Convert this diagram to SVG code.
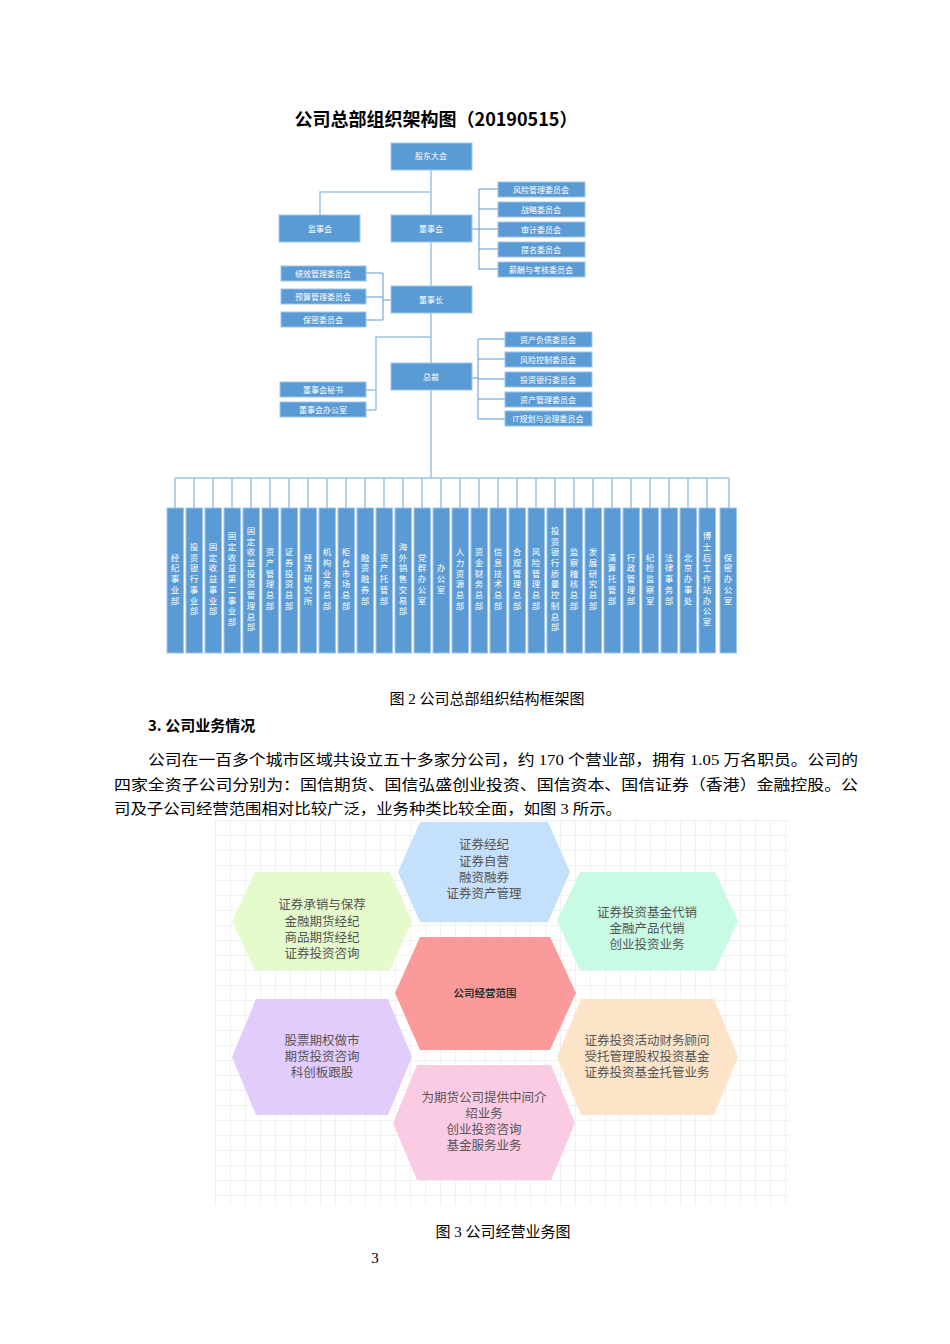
<svg xmlns="http://www.w3.org/2000/svg" width="950" height="1344" viewBox="0 0 950 1344">
<defs>
<pattern id="grid" width="15" height="15" patternUnits="userSpaceOnUse" x="215" y="820">
<path d="M15 0H0V15" fill="none" stroke="#e3e3e3" stroke-width="1"/>
</pattern>
</defs>
<style>
.b{fill:#5b9bd5;stroke:#9fc5e8;stroke-width:1}
.t{fill:#fff;font-family:"Noto Sans CJK SC",sans-serif;font-size:8px;text-anchor:middle}
.v{fill:#fff;font-family:"Noto Sans CJK SC",sans-serif;font-size:8.5px;text-anchor:middle;writing-mode:vertical-rl;text-orientation:upright;letter-spacing:2.2px}
.c{fill:none;stroke:#9dc3e6;stroke-width:1.5}
.k{fill:none;stroke:#5b9bd5;stroke-width:1}
.p{font-family:"Liberation Serif","Noto Sans CJK SC",serif;font-size:15px;fill:#000}
.h{font-family:"Noto Sans CJK SC",sans-serif;font-size:12.5px;fill:#555;text-anchor:middle}
</style>
<rect width="950" height="1344" fill="#fff"/>
<text x="436" y="126" font-family="Noto Sans CJK SC,sans-serif" font-size="18" font-weight="bold" text-anchor="middle">公司总部组织架构图（20190515）</text>
<g id="connectors">
<path class="c" d="M431 170V286M431 192H320V215M431 313V363M431 337H376V410M366 390H376M366 410H376M431 390V478M175 478H729"/>
<path class="k" d="M472 229H479M479 189V270M479 189H498M479 209H498M479 229H498M479 249H498M479 269H498"/>
<path class="k" d="M391 300H383M383 273V320M366 273H383M366 297H383M366 320H383"/>
<path class="k" d="M472 378H478M478 339V419M478 339H505M478 359H505M478 379H505M478 399H505M478 419H505"/>
<path class="c" d="M175 478V508M194 478V508M213 478V508M232 478V508M251 478V508M270 478V508M289 478V508M308 478V508M327 478V508M346 478V508M365 478V508M384 478V508M403 478V508M422 478V508M441 478V508M460 478V508M479 478V508M498 478V508M517 478V508M536 478V508M555 478V508M574 478V508M593 478V508M612 478V508M631 478V508M650 478V508M669 478V508M688 478V508M707 478V508M729 478V508"/>
</g>
<g id="gddh"><rect class="b" x="391" y="143" width="81" height="27"/><text class="t" x="431" y="159">股东大会</text></g>
<g id="jsh"><rect class="b" x="279" y="215" width="81" height="27"/><text class="t" x="320" y="232">监事会</text></g>
<g id="dsh"><rect class="b" x="391" y="215" width="81" height="27"/><text class="t" x="431" y="232">董事会</text></g>
<g id="dsz"><rect class="b" x="391" y="286" width="81" height="27"/><text class="t" x="431" y="303">董事长</text></g>
<g id="zc"><rect class="b" x="391" y="363" width="81" height="27"/><text class="t" x="431" y="380">总裁</text></g>
<g id="rc1"><rect class="b" x="498" y="182" width="87" height="15"/><text class="t" x="541" y="193">风险管理委员会</text></g>
<g id="rc2"><rect class="b" x="498" y="202" width="87" height="15"/><text class="t" x="541" y="213">战略委员会</text></g>
<g id="rc3"><rect class="b" x="498" y="222" width="87" height="15"/><text class="t" x="541" y="233">审计委员会</text></g>
<g id="rc4"><rect class="b" x="498" y="242" width="87" height="15"/><text class="t" x="541" y="253">提名委员会</text></g>
<g id="rc5"><rect class="b" x="498" y="262" width="87" height="15"/><text class="t" x="541" y="273">薪酬与考核委员会</text></g>
<g id="lc1"><rect class="b" x="281" y="266" width="85" height="15"/><text class="t" x="323" y="277">绩效管理委员会</text></g>
<g id="lc2"><rect class="b" x="281" y="289" width="85" height="15"/><text class="t" x="323" y="300">预算管理委员会</text></g>
<g id="lc3"><rect class="b" x="281" y="312" width="85" height="15"/><text class="t" x="323" y="323">保密委员会</text></g>
<g id="ms1"><rect class="b" x="280" y="382" width="86" height="15"/><text class="t" x="323" y="393">董事会秘书</text></g>
<g id="ms2"><rect class="b" x="280" y="402" width="86" height="15"/><text class="t" x="323" y="413">董事会办公室</text></g>
<g id="zc1"><rect class="b" x="505" y="332" width="87" height="15"/><text class="t" x="548" y="343">资产负债委员会</text></g>
<g id="zc2"><rect class="b" x="505" y="352" width="87" height="15"/><text class="t" x="548" y="363">风险控制委员会</text></g>
<g id="zc3"><rect class="b" x="505" y="372" width="87" height="15"/><text class="t" x="548" y="383">投资银行委员会</text></g>
<g id="zc4"><rect class="b" x="505" y="392" width="87" height="15"/><text class="t" x="548" y="403">资产管理委员会</text></g>
<g id="zc5"><rect class="b" x="505" y="411" width="87" height="15"/><text class="t" x="548" y="422">IT规划与治理委员会</text></g>
<g id="depts">
<g id="d1"><rect class="b" x="167" y="508" width="16.5" height="145"/><text class="v" x="175" y="580">经纪事业部</text></g>
<g id="d2"><rect class="b" x="186" y="508" width="16.5" height="145"/><text class="v" x="194" y="580">投资银行事业部</text></g>
<g id="d3"><rect class="b" x="205" y="508" width="16.5" height="145"/><text class="v" x="213" y="580">固定收益事业部</text></g>
<g id="d4"><rect class="b" x="224" y="508" width="16.5" height="145"/><text class="v" x="232" y="580">固定收益第二事业部</text></g>
<g id="d5"><rect class="b" x="243" y="508" width="16.5" height="145"/><text class="v" x="251" y="580">固定收益投资管理总部</text></g>
<g id="d6"><rect class="b" x="262" y="508" width="16.5" height="145"/><text class="v" x="270" y="580">资产管理总部</text></g>
<g id="d7"><rect class="b" x="281" y="508" width="16.5" height="145"/><text class="v" x="289" y="580">证券投资总部</text></g>
<g id="d8"><rect class="b" x="300" y="508" width="16.5" height="145"/><text class="v" x="308" y="580">经济研究所</text></g>
<g id="d9"><rect class="b" x="319" y="508" width="16.5" height="145"/><text class="v" x="327" y="580">机构业务总部</text></g>
<g id="d10"><rect class="b" x="338" y="508" width="16.5" height="145"/><text class="v" x="346" y="580">柜台市场总部</text></g>
<g id="d11"><rect class="b" x="357" y="508" width="16.5" height="145"/><text class="v" x="365" y="580">融资融券部</text></g>
<g id="d12"><rect class="b" x="376" y="508" width="16.5" height="145"/><text class="v" x="384" y="580">资产托管部</text></g>
<g id="d13"><rect class="b" x="395" y="508" width="16.5" height="145"/><text class="v" x="403" y="580">海外销售交易部</text></g>
<g id="d14"><rect class="b" x="414" y="508" width="16.5" height="145"/><text class="v" x="422" y="580">党群办公室</text></g>
<g id="d15"><rect class="b" x="433" y="508" width="16.5" height="145"/><text class="v" x="441" y="580">办公室</text></g>
<g id="d16"><rect class="b" x="452" y="508" width="16.5" height="145"/><text class="v" x="460" y="580">人力资源总部</text></g>
<g id="d17"><rect class="b" x="471" y="508" width="16.5" height="145"/><text class="v" x="479" y="580">资金财务总部</text></g>
<g id="d18"><rect class="b" x="490" y="508" width="16.5" height="145"/><text class="v" x="498" y="580">信息技术总部</text></g>
<g id="d19"><rect class="b" x="509" y="508" width="16.5" height="145"/><text class="v" x="517" y="580">合规管理总部</text></g>
<g id="d20"><rect class="b" x="528" y="508" width="16.5" height="145"/><text class="v" x="536" y="580">风险管理总部</text></g>
<g id="d21"><rect class="b" x="547" y="508" width="16.5" height="145"/><text class="v" x="555" y="580">投资银行质量控制总部</text></g>
<g id="d22"><rect class="b" x="566" y="508" width="16.5" height="145"/><text class="v" x="574" y="580">监察稽核总部</text></g>
<g id="d23"><rect class="b" x="585" y="508" width="16.5" height="145"/><text class="v" x="593" y="580">发展研究总部</text></g>
<g id="d24"><rect class="b" x="604" y="508" width="16.5" height="145"/><text class="v" x="612" y="580">清算托管部</text></g>
<g id="d25"><rect class="b" x="623" y="508" width="16.5" height="145"/><text class="v" x="631" y="580">行政管理部</text></g>
<g id="d26"><rect class="b" x="642" y="508" width="16.5" height="145"/><text class="v" x="650" y="580">纪检监察室</text></g>
<g id="d27"><rect class="b" x="661" y="508" width="16.5" height="145"/><text class="v" x="669" y="580">法律事务部</text></g>
<g id="d28"><rect class="b" x="680" y="508" width="16.5" height="145"/><text class="v" x="688" y="580">北京办事处</text></g>
<g id="d29"><rect class="b" x="699" y="508" width="16.5" height="145"/><text class="v" x="707" y="580">博士后工作站办公室</text></g>
<g id="d30"><rect class="b" x="720" y="508" width="16.5" height="145"/><text class="v" x="728" y="580">保密办公室</text></g>
</g>
<text class="p" x="487" y="704" text-anchor="middle">图 2  公司总部组织结构框架图</text>
<text x="148" y="731" font-family="Noto Sans CJK SC,sans-serif" font-size="15" font-weight="bold">3. 公司业务情况</text>
<text class="p" x="148" y="765" textLength="710" lengthAdjust="spacingAndGlyphs">公司在一百多个城市区域共设立五十多家分公司，约 170 个营业部，拥有 1.05 万名职员。公司的</text>
<text class="p" x="114" y="790" textLength="744" lengthAdjust="spacingAndGlyphs">四家全资子公司分别为：国信期货、国信弘盛创业投资、国信资本、国信证券（香港）金融控股。公</text>
<text class="p" x="114" y="814" textLength="508" lengthAdjust="spacingAndGlyphs">司及子公司经营范围相对比较广泛，业务种类比较全面，如图 3 所示。</text>
<rect x="215" y="820" width="575" height="385" fill="url(#grid)"/>
<g id="hex-top"><polygon points="398,872 420,822 548,822 570,872 548,922 420,922" fill="#c5e0fb"/>
<text class="h" x="484" y="849">证券经纪</text><text class="h" x="484" y="866">证券自营</text><text class="h" x="484" y="882">融资融券</text><text class="h" x="484" y="898">证券资产管理</text></g>
<g id="hex-lt"><polygon points="232,921 255,872 390,872 412,921 390,970 255,970" fill="#e6fbcc"/>
<text class="h" x="322" y="909">证券承销与保荐</text><text class="h" x="322" y="926">金融期货经纪</text><text class="h" x="322" y="942">商品期货经纪</text><text class="h" x="322" y="958">证券投资咨询</text></g>
<g id="hex-rt"><polygon points="557,921 580,872 715,872 738,921 715,970 580,970" fill="#c8fbe4"/>
<text class="h" x="647" y="917">证券投资基金代销</text><text class="h" x="647" y="933">金融产品代销</text><text class="h" x="647" y="949">创业投资业务</text></g>
<g id="hex-c"><polygon points="395,993 420,937 550,937 576,993 550,1050 420,1050" fill="#fb9a9a"/>
<text x="485" y="997" font-family="Noto Sans CJK SC,sans-serif" font-size="10.5" font-weight="bold" fill="#333" text-anchor="middle">公司经营范围</text></g>
<g id="hex-lb"><polygon points="232,1057 256,999 388,999 412,1057 388,1115 256,1115" fill="#e2ccfb"/>
<text class="h" x="322" y="1045">股票期权做市</text><text class="h" x="322" y="1061">期货投资咨询</text><text class="h" x="322" y="1077">科创板跟股</text></g>
<g id="hex-rb"><polygon points="557,1057 581,999 714,999 738,1057 714,1115 581,1115" fill="#fde4c8"/>
<text class="h" x="647" y="1045">证券投资活动财务顾问</text><text class="h" x="647" y="1061">受托管理股权投资基金</text><text class="h" x="647" y="1077">证券投资基金托管业务</text></g>
<g id="hex-b"><polygon points="393,1123 417,1065 551,1065 575,1123 551,1180 417,1180" fill="#fbcbe4"/>
<text class="h" x="484" y="1102">为期货公司提供中间介</text><text class="h" x="484" y="1118">绍业务</text><text class="h" x="484" y="1134">创业投资咨询</text><text class="h" x="484" y="1150">基金服务业务</text></g>
<text class="p" x="503" y="1237" text-anchor="middle">图 3  公司经营业务图</text>
<text class="p" x="375" y="1263" text-anchor="middle" font-size="13">3</text>
</svg>
